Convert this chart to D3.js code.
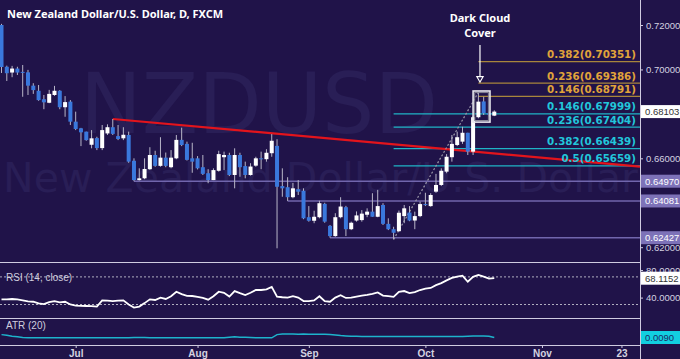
<!DOCTYPE html>
<html><head><meta charset="utf-8">
<script src="https://cdn.jsdelivr.net/npm/d3@7"></script>
<style>html,body{margin:0;padding:0;background:#201349;}svg{display:block}</style>
</head><body>
<svg id="c" width="680" height="359"></svg>
<script>
// ---------- data ----------
const opens = [
.7200,.7012,.6986,.7004,.6989,.6987,.6927,.6904,.6866,.6850,
.6885,.6904,.6830,.6855,.6765,.6735,.6720,.6661,.6691,.6646,
.6712,.6740,.6700,.6690,.6705,.6589,.6502,.6510,.6551,.6615,
.6566,.6603,.6560,.6600,.6683,.6665,.6600,.6600,.6560,.6533,
.6502,.6544,.6605,.6615,.6525,.6615,.6565,.6525,.6567,.6600,
.6596,.6623,.6656,.6475,.6470,.6425,.6461,.6454,.6335,.6319,
.6335,.6395,.6296,.6250,.6335,.6380,.6281,.6320,.6322,.6346,
.6360,.6337,.6390,.6305,.6281,.6272,.6340,.6356,.6320,.6340,
.6394,.6385,.6450,.6480,.6540,.6605,.6660,.6675,.6715,.6630,
.6785,.6856,.6803,.6792];
const highs = [
.7205,.7017,.7016,.7012,.7020,.6998,.6938,.6930,.6885,.6908,
.6926,.6907,.6880,.6862,.6810,.6737,.6720,.6727,.6697,.6750,
.6753,.6777,.6750,.6740,.6720,.6600,.6555,.6600,.6650,.6634,
.6695,.6626,.6637,.6705,.6738,.6675,.6670,.6610,.6615,.6551,
.6555,.6634,.6630,.6625,.6645,.6625,.6585,.6578,.6607,.6630,
.6641,.6709,.6686,.6555,.6515,.6489,.6502,.6465,.6385,.6364,
.6409,.6400,.6300,.6353,.6425,.6386,.6315,.6361,.6367,.6375,
.6443,.6458,.6398,.6330,.6292,.6365,.6390,.6385,.6360,.6405,
.6445,.6443,.6530,.6555,.6619,.6705,.6720,.6742,.6715,.6790,
.68964,.6877,.6810,.6816];
const lows = [
.6984,.6948,.6965,.6975,.6877,.6885,.6890,.6859,.6821,.6848,
.6881,.6821,.6787,.6750,.6727,.6655,.6679,.6645,.6637,.6637,
.6705,.6705,.6682,.6682,.6580,.64970,.6500,.6506,.6548,.6562,
.6562,.6560,.6555,.6596,.6655,.6590,.6535,.6550,.6525,.6488,
.6502,.6540,.6547,.6520,.6465,.6517,.6510,.6522,.6562,.6551,
.6585,.6607,.6195,.6427,.64081,.6420,.6435,.6326,.6315,.6308,
.6330,.6310,.62427,.6247,.6330,.6250,.6277,.6315,.6315,.6335,
.6337,.6335,.6300,.6277,.62354,.6270,.6308,.6317,.6281,.6335,
.6385,.6382,.6445,.6475,.6533,.6585,.6655,.6665,.6615,.6615,
.6780,.6795,.6788,.6790];
const closes = [
.7011,.6983,.7004,.6986,.6986,.6927,.6907,.6862,.6852,.6890,
.6904,.6830,.6853,.6765,.6732,.6717,.6682,.6690,.6646,.6727,
.6740,.6710,.6687,.6706,.6585,.6502,.6510,.6552,.6615,.6566,
.6603,.6566,.6603,.6683,.6660,.6593,.6585,.6555,.6530,.6502,
.6547,.6619,.6615,.6525,.6615,.6560,.6525,.6563,.6600,.6596,
.6625,.6679,.6472,.6465,.6425,.6465,.6450,.6330,.6319,.6337,
.6398,.6315,.6250,.6335,.6383,.6281,.6310,.6343,.6351,.6360,
.6337,.6385,.6305,.6281,.6265,.6355,.6375,.6320,.6340,.6394,
.6390,.6435,.6480,.6544,.6607,.6665,.6695,.6715,.6630,.6785,
.6855,.6803,.6796,.68103];
const rsi = [
37.5,37.5,38,37.5,36,34.5,34,31.5,30.5,33.5,
35,33,34,30,28.5,28,27.8,27.5,27,36,
35.5,35,35.5,36,30,25.5,27,32,37.5,36.5,
40,38,42,48.5,45,42.5,42.3,41,39.5,37,
42,48.5,47,41.5,49.5,46.5,43.8,47,51,51,
52,55.5,41.4,40.5,40,42,40,35,35,36,
42,35,34,40,43.5,39.5,40,41.5,43,44,
45.5,47.5,43,42,41,48.5,49.5,46.5,48,51,
53,54,58,61,65,68.5,70.5,71.8,63,70,
72.8,70.5,67.5,68.1152];
const atr = [
.0099,.0097,.0094,.0092,.0090,
.0089,.0089,.0089,.0089,.0089,.0089,.0089,.0089,.0089,.0089,
.0089,.0089,.0089,.0089,.0089,.0089,.0089,.0089,.0089,.0089,
.0090,.0090,.0090,.0089,.0089,.0089,.0089,.0089,.0089,.0089,
.0089,.0089,.0089,.0089,.0089,.0089,.0089,.0089,.0091,.0092,
.0091,.0091,.0090,.0089,.0089,.0089,.0089,
.0099,
.0101,.0101,.0101,.0100,.0101,.0100,.0100,.0100,.0100,
.0099,.0098,.0096,.0095,
.0094,.0094,.0093,.0093,.0093,.0093,.0093,.0093,.0093,.0093,.0093,
.0093,.0093,.0093,.0093,.0093,.0093,.0093,.0093,.0093,.0093,.0093,
.0094,.0095,.0095,.0095,.0094,.0090];

const monthTickBars = [14, 37, 58, 80, 102, 117];
const monthTickLabels = ["Jul", "Aug", "Sep", "Oct", "Nov", "23"];
const priceTicks = [0.62, 0.66, 0.70, 0.72];
const supportLevels = [0.64970, 0.64081, 0.62427];
const supportStartBars = [25, 54, 62];
const fibUpRatios = ["0.382", "0.236", "0.146"];
const fibUpLevels = [0.70351, 0.69386, 0.68791];
const fibDownRatios = ["0.146", "0.236", "0.382", "0.5"];
const fibDownLevels = [0.67999, 0.67404, 0.66439, 0.65659];
const fibUpStartBar = 90, fibDownStartBar = 74;
const lastPrice = 0.68103;
const trendBars = [21, 120.5], trendPrices = [0.6777, 0.6563];
const swingBars = [74, 90], swingPrices = [0.62354, 0.68964];
const boxBars = [89, 92], boxPrices = [0.6903, 0.6763];
const arrowBar = 90.3, arrowPrices = [0.7110, 0.6943];
const rsiTicks = [80, 40], rsiLevels = [70, 30];
const lastAtr = 0.0090;

// ---------- layout ----------
const svg = d3.select("#c");
const W = 680, H = 359, R = 640;
const mainBottom = 262, rsiBottom = 318, atrBottom = 345;
const BG = "#201349";

const x = d3.scaleLinear().domain([0, 120.5]).range([1.5, R]);
const y = d3.scaleLinear().domain([0.62, 0.72]).range([247.2, 25]);
const yr = d3.scaleLinear().domain([40, 80]).range([297.6, 270]);
const ya = d3.scaleLinear().domain([0.0090, 0.0100]).range([337.5, 334.3]);

svg.append("rect").attr("width", W).attr("height", H).attr("fill", BG);

const defs = svg.append("defs");
defs.append("clipPath").attr("id", "mainClip").append("rect")
  .attr("x", 0).attr("y", 0).attr("width", R).attr("height", mainBottom);

// watermarks
const wm = svg.append("g").attr("clip-path", "url(#mainClip)");
wm.append("text").attr("x", 80).attr("y", 133)
  .attr("font-family", "DejaVu Sans").attr("font-size", 84)
  .attr("textLength", 358).attr("lengthAdjust", "spacingAndGlyphs")
  .attr("fill", "#291e56").text("NZDUSD");
wm.append("text").attr("x", 3).attr("y", 192)
  .attr("font-family", "DejaVu Sans").attr("font-size", 40)
  .attr("textLength", 635).attr("lengthAdjust", "spacingAndGlyphs")
  .attr("fill", "#291e56").text("New Zealand Dollar/U.S. Dollar");

// title
svg.append("text").attr("x", 7).attr("y", 18)
  .attr("font-family", "Noto Sans").attr("font-weight", 700).attr("font-size", 11)
  .attr("fill", "#ffffff").text("New Zealand Dollar/U.S. Dollar, D, FXCM");

const main = svg.append("g").attr("clip-path", "url(#mainClip)");

// support lines
supportLevels.forEach((lv, i) => {
  main.append("line").attr("x1", x(supportStartBars[i])).attr("x2", R)
    .attr("y1", y(lv)).attr("y2", y(lv))
    .attr("stroke", "#7166ad").attr("stroke-width", 1.6);
});

// fib lines
fibUpLevels.forEach((lv) => {
  main.append("line").attr("x1", x(fibUpStartBar)).attr("x2", R)
    .attr("y1", y(lv)).attr("y2", y(lv))
    .attr("stroke", "#a8863c").attr("stroke-width", 1.3);
});
fibDownLevels.forEach((lv) => {
  main.append("line").attr("x1", x(fibDownStartBar)).attr("x2", R)
    .attr("y1", y(lv)).attr("y2", y(lv))
    .attr("stroke", "#1fb4c6").attr("stroke-width", 1.3);
});

// trend line
main.append("line")
  .attr("x1", x(trendBars[0])).attr("y1", y(trendPrices[0]))
  .attr("x2", x(trendBars[1])).attr("y2", y(trendPrices[1]))
  .attr("stroke", "#e3141c").attr("stroke-width", 2.2);

// swing dashed line
main.append("line")
  .attr("x1", x(swingBars[0])).attr("y1", y(swingPrices[0]))
  .attr("x2", x(swingBars[1])).attr("y2", y(swingPrices[1]))
  .attr("stroke", "#9a98a8").attr("stroke-width", 1.2).attr("stroke-dasharray", "2,2");

// candles
const idx = d3.range(opens.length);
const bw = 4;
main.append("g").selectAll("line").data(idx).join("line")
  .attr("x1", i => x(i)).attr("x2", i => x(i))
  .attr("y1", i => y(highs[i])).attr("y2", i => y(lows[i]))
  .attr("stroke", "#b8b6c8").attr("stroke-width", 1);
main.append("g").selectAll("rect").data(idx).join("rect")
  .attr("x", i => x(i) - bw / 2).attr("width", bw)
  .attr("y", i => y(Math.max(opens[i], closes[i])))
  .attr("height", i => Math.max(1, Math.abs(y(opens[i]) - y(closes[i]))))
  .attr("fill", i => closes[i] >= opens[i] ? "#ffffff" : "#3a78dc");

// dark cloud cover box
const bx0 = x(boxBars[0]), bx1 = x(boxBars[1]) + 1;
const by0 = y(boxPrices[0]), by1 = y(boxPrices[1]);
main.append("rect").attr("x", bx0).attr("y", by0).attr("width", bx1 - bx0).attr("height", by1 - by0)
  .attr("fill", "none").attr("stroke", "#e8e8ee").attr("stroke-width", 1.6);
main.append("rect").attr("x", bx0 + 1.6).attr("y", by0 + 1.6).attr("width", bx1 - bx0 - 3.2).attr("height", by1 - by0 - 3.2)
  .attr("fill", "none").attr("stroke", "#8a8898").attr("stroke-width", 1);

// arrow
const ax = x(arrowBar);
main.append("line").attr("x1", ax).attr("x2", ax)
  .attr("y1", y(arrowPrices[0])).attr("y2", y(arrowPrices[1]) - 5)
  .attr("stroke", "#ffffff").attr("stroke-width", 1.2);
const at = y(arrowPrices[1]);
main.append("path")
  .attr("d", `M${ax - 3.2},${at - 5.5}L${ax + 3.2},${at - 5.5}L${ax},${at}Z`)
  .attr("fill", BG).attr("stroke", "#ffffff").attr("stroke-width", 1.1);
const annot = main.append("text").attr("text-anchor", "middle")
  .attr("font-family", "Noto Sans").attr("font-weight", 700).attr("font-size", 11)
  .attr("fill", "#ffffff");
annot.append("tspan").attr("x", ax).attr("y", 22).text("Dark Cloud");
annot.append("tspan").attr("x", ax).attr("y", 37).text("Cover");

// fib labels
const fibFont = "DejaVu Sans";
fibUpLevels.forEach((lv, i) => {
  main.append("text").attr("x", 636).attr("y", y(lv) - 3.5).attr("text-anchor", "end")
    .attr("font-family", fibFont).attr("font-weight", 700).attr("font-size", 10.3)
    .attr("fill", "#e0a43a").text(`${fibUpRatios[i]}(${lv.toFixed(5)})`);
});
fibDownLevels.forEach((lv, i) => {
  main.append("text").attr("x", 636).attr("y", y(lv) - 3.5).attr("text-anchor", "end")
    .attr("font-family", fibFont).attr("font-weight", 700).attr("font-size", 10.3)
    .attr("fill", "#22c6da").text(`${fibDownRatios[i]}(${lv.toFixed(5)})`);
});

// ---------- RSI panel ----------
svg.append("clipPath").attr("id", "rsiClip").append("rect")
  .attr("x", 0).attr("y", mainBottom).attr("width", R).attr("height", rsiBottom - mainBottom);
const rp = svg.append("g").attr("clip-path", "url(#rsiClip)");
rsiLevels.forEach(lv => {
  rp.append("line").attr("x1", 0).attr("x2", R).attr("y1", yr(lv)).attr("y2", yr(lv))
    .attr("stroke", "#b0aec0").attr("stroke-width", 1).attr("stroke-dasharray", "2,2");
});
rp.append("path").datum(idx)
  .attr("d", d3.line().x(i => x(i)).y(i => yr(rsi[i])))
  .attr("fill", "none").attr("stroke", "#ffffff").attr("stroke-width", 1.8);
rp.append("text").attr("x", 6).attr("y", 281)
  .attr("font-family", "Liberation Sans").attr("font-size", 10)
  .attr("fill", "#d0cede").text("RSI (14, close)");

// ---------- ATR panel ----------
const ap = svg.append("g");
ap.append("path").datum(idx)
  .attr("d", d3.line().x(i => x(i)).y(i => ya(atr[i])))
  .attr("fill", "none").attr("stroke", "#1db4cc").attr("stroke-width", 1.5);
ap.append("text").attr("x", 6).attr("y", 329)
  .attr("font-family", "Liberation Sans").attr("font-size", 10)
  .attr("fill", "#d0cede").text("ATR (20)");

// ---------- frame ----------
[mainBottom, rsiBottom, atrBottom].forEach(yy => {
  svg.append("line").attr("x1", 0).attr("x2", R).attr("y1", yy + 0.5).attr("y2", yy + 0.5)
    .attr("stroke", "#cfcbe0").attr("stroke-width", 1);
});
svg.append("line").attr("x1", R + 0.5).attr("x2", R + 0.5).attr("y1", 0).attr("y2", H)
  .attr("stroke", "#cfcbe0").attr("stroke-width", 1);

// ---------- axes ----------
const axisFont = "Liberation Sans";
function styleAxis(g) {
  g.select(".domain").remove();
  g.selectAll(".tick line").attr("stroke", "#cfcbe0");
  g.selectAll(".tick text").attr("fill", "#d4d2e0").attr("font-family", axisFont).attr("font-size", 9.5);
}
svg.append("g").attr("transform", `translate(${R},0)`)
  .call(d3.axisRight(y).tickValues(priceTicks).tickFormat(d3.format(".5f")).tickSize(3).tickPadding(3))
  .call(styleAxis);
svg.append("g").attr("transform", `translate(${R},0)`)
  .call(d3.axisRight(yr).tickValues(rsiTicks).tickFormat(d3.format(".4f")).tickSize(3).tickPadding(3))
  .call(styleAxis);
const xa = svg.append("g").attr("transform", `translate(0,${atrBottom})`)
  .call(d3.axisBottom(x).tickValues(monthTickBars).tickFormat((d, i) => monthTickLabels[i]).tickSize(3).tickPadding(2))
  .call(styleAxis);
xa.selectAll(".tick text").attr("font-weight", 700).attr("font-size", 10);

// ---------- right-side value labels ----------
function valueLabel(yy, txt, bg, fg) {
  const g = svg.append("g");
  g.append("rect").attr("x", R + 1).attr("y", yy - 6.5).attr("width", W - R - 1).attr("height", 13).attr("fill", bg);
  g.append("text").attr("x", R + 5).attr("y", yy + 3.5)
    .attr("font-family", axisFont).attr("font-size", 9.5).attr("fill", fg).text(txt);
}
supportLevels.forEach(lv => valueLabel(y(lv), lv.toFixed(5), "#7d72b8", "#ffffff"));
valueLabel(y(lastPrice), lastPrice.toFixed(5), "#ffffff", "#333333");
valueLabel(yr(rsi[rsi.length - 1]), rsi[rsi.length - 1].toFixed(4), "#ffffff", "#333333");
valueLabel(ya(lastAtr), lastAtr.toFixed(4), "#12cfe0", "#1b2a66");
</script>
</body></html>
